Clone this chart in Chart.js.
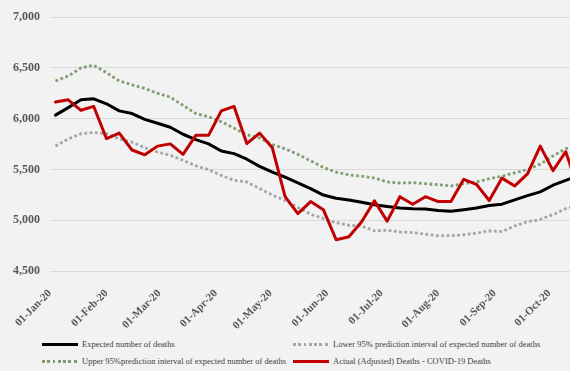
<!DOCTYPE html>
<html>
<head>
<meta charset="utf-8">
<script src="https://cdn.jsdelivr.net/npm/chart.js@4"></script>
<style>
  html, body { margin: 0; padding: 0; background: #f2f2f2; overflow: hidden; width: 570px; height: 371px; }
  #wrap { position: relative; width: 570px; height: 371px; overflow: hidden; }
  #chart { position: absolute; left: 0; top: 0; }
  #ytitle {
    position: absolute; width: 220px; height: 12px; line-height: 12px;
    left: -121px; top: 157px; text-align: center;
    transform: rotate(-90deg);
    font: bold 12px "Liberation Serif", "Times New Roman", serif; color: #595959;
    white-space: nowrap;
  }
  .lg { position: absolute; font: 8.5px "Liberation Serif", "Times New Roman", serif; color: #404040; white-space: nowrap; line-height: 10px; }
  .lg i { display: inline-block; width: 36px; height: 3px; vertical-align: middle; margin-right: 4px; position: relative; top: -1px; }
</style>
</head>
<body>
<div id="wrap">
  <canvas id="chart" width="584" height="330"></canvas>
  <div id="ytitle">Number of Deaths Per Week</div>
  <div class="lg" style="left:42px; top:339px"><i style="background:#000"></i>Expected number of deaths</div>
  <div class="lg" style="left:293px; top:339px"><i style="background:repeating-linear-gradient(90deg,#a6a6a6 0 2.8px,transparent 2.8px 5.3px)"></i>Lower 95% prediction interval of expected number of deaths</div>
  <div class="lg" style="left:42px; top:356px"><i style="background:repeating-linear-gradient(90deg,#7f9f72 0 2.8px,transparent 2.8px 5.3px)"></i>Upper 95%prediction interval of expected number of deaths</div>
  <div class="lg" style="left:293px; top:356px"><i style="background:#c00000"></i>Actual (Adjusted) Deaths - COVID-19 Deaths</div>
</div>
<script>
// week ending dates
const weekEnding = [
  "2020-01-04", "2020-01-11", "2020-01-18", "2020-01-25", "2020-02-01", "2020-02-08",
  "2020-02-15", "2020-02-22", "2020-02-29", "2020-03-07", "2020-03-14", "2020-03-21",
  "2020-03-28", "2020-04-04", "2020-04-11", "2020-04-18", "2020-04-25", "2020-05-02",
  "2020-05-09", "2020-05-16", "2020-05-23", "2020-05-30", "2020-06-06", "2020-06-13",
  "2020-06-20", "2020-06-27", "2020-07-04", "2020-07-11", "2020-07-18", "2020-07-25",
  "2020-08-01", "2020-08-08", "2020-08-15", "2020-08-22", "2020-08-29", "2020-09-05",
  "2020-09-12", "2020-09-19", "2020-09-26", "2020-10-03", "2020-10-10", "2020-10-17"
];

const expected = [
  6035, 6109, 6186, 6196, 6147, 6077, 6051, 5993, 5955, 5916, 5847, 5794,
  5752, 5682, 5656, 5601, 5531, 5473, 5425, 5367, 5312, 5248, 5216, 5200,
  5177, 5152, 5136, 5120, 5113, 5110, 5095, 5088, 5104, 5120, 5145, 5158,
  5200, 5242, 5280, 5345, 5393, 5440
];

const lower95 = [
  5730, 5801, 5852, 5865, 5852, 5801, 5769, 5714, 5672, 5640, 5590, 5537,
  5499, 5441, 5393, 5377, 5312, 5248, 5194, 5126, 5059, 5017, 4975, 4950,
  4943, 4895, 4901, 4885, 4878, 4863, 4847, 4847, 4857, 4873, 4895, 4888,
  4943, 4985, 5008, 5056, 5114, 5150
];

const upper95 = [
  6372, 6420, 6501, 6526, 6453, 6372, 6334, 6298, 6250, 6212, 6131, 6051,
  6019, 5971, 5907, 5842, 5810, 5746, 5704, 5649, 5585, 5521, 5473, 5447,
  5434, 5415, 5377, 5367, 5370, 5360, 5350, 5338, 5360, 5377, 5409, 5434,
  5467, 5499, 5553, 5634, 5704, 5740
];

const actual = [
  6164, 6186, 6083, 6121, 5803, 5858, 5692, 5644, 5730, 5752, 5649, 5836,
  5836, 6077, 6121, 5755, 5858, 5714, 5232, 5065, 5184, 5104, 4808, 4837,
  4985, 5191, 4991, 5232, 5158, 5232, 5184, 5184, 5403, 5354, 5194, 5415,
  5338, 5457, 5730, 5489, 5675, 5300
];

const tickDates = [
  "2020-01-01", "2020-02-01", "2020-03-01", "2020-04-01", "2020-05-01",
  "2020-06-01", "2020-07-01", "2020-08-01", "2020-09-01", "2020-10-01"
];
const tickLabels = [
  "01-Jan-20", "01-Feb-20", "01-Mar-20", "01-Apr-20", "01-May-20",
  "01-Jun-20", "01-Jul-20", "01-Aug-20", "01-Sep-20", "01-Oct-20"
];

const start = Date.parse("2020-01-01");
const dayOf = (s) => (Date.parse(s) - start) / 86400000;
const pts = (vals) => vals.map((v, i) => ({ x: dayOf(weekEnding[i]), y: v }));

const serif = '"Liberation Serif", "Times New Roman", serif';
const PLOT_BOTTOM = 271;

const ctx = document.getElementById("chart").getContext("2d");
new Chart(ctx, {
  type: "line",
  data: {
    datasets: [
      {
        label: "Expected number of deaths",
        data: pts(expected),
        borderColor: "#000000",
        borderWidth: 3,
        borderCapStyle: "round",
        borderJoinStyle: "round",
        pointRadius: 0,
        order: 1,
      },
      {
        label: "Lower 95% prediction interval of expected number of deaths",
        data: pts(lower95),
        borderColor: "#a6a6a6",
        borderWidth: 2.8,
        borderDash: [2.8, 2.5],
        pointRadius: 0,
        order: 2,
      },
      {
        label: "Upper 95%prediction interval of expected number of deaths",
        data: pts(upper95),
        borderColor: "#7f9f72",
        borderWidth: 2.8,
        borderDash: [2.8, 2.5],
        pointRadius: 0,
        order: 3,
      },
      {
        label: "Actual (Adjusted) Deaths - COVID-19 Deaths",
        data: pts(actual),
        borderColor: "#c00000",
        borderWidth: 3,
        borderCapStyle: "round",
        borderJoinStyle: "round",
        pointRadius: 0,
        order: 0,
      },
    ],
  },
  options: {
    responsive: false,
    animation: false,
    layout: { padding: { top: 11, right: 0, left: 0, bottom: 0 } },
    plugins: {
      legend: { display: false },
      tooltip: { enabled: false },
    },
    scales: {
      x: {
        type: "linear",
        min: 0,
        max: 293,
        grid: { display: false },
        border: { display: false },
        afterBuildTicks: (scale) => {
          scale.ticks = tickDates.map((d) => ({ value: dayOf(d) }));
        },
        afterFit: (scale) => {
          scale.height = 330 - PLOT_BOTTOM;
        },
        ticks: {
          autoSkip: false,
          minRotation: 45,
          maxRotation: 45,
          padding: 8,
          color: "#595959",
          font: { family: serif, size: 11, weight: "bold" },
          callback: (value) => {
            const i = tickDates.findIndex((d) => dayOf(d) === value);
            return i >= 0 ? tickLabels[i] : "";
          },
        },
      },
      y: {
        min: 4500,
        max: 7000,
        border: { display: false },
        grid: { color: "#d9d9d9", lineWidth: 1, drawTicks: false },
        afterFit: (scale) => {
          scale.width = 50;
        },
        ticks: {
          stepSize: 500,
          padding: 10,
          color: "#595959",
          font: { family: serif, size: 12, weight: "bold" },
          callback: (v) => v.toLocaleString("en-US"),
        },
      },
    },
  },
});
</script>
</body>
</html>
